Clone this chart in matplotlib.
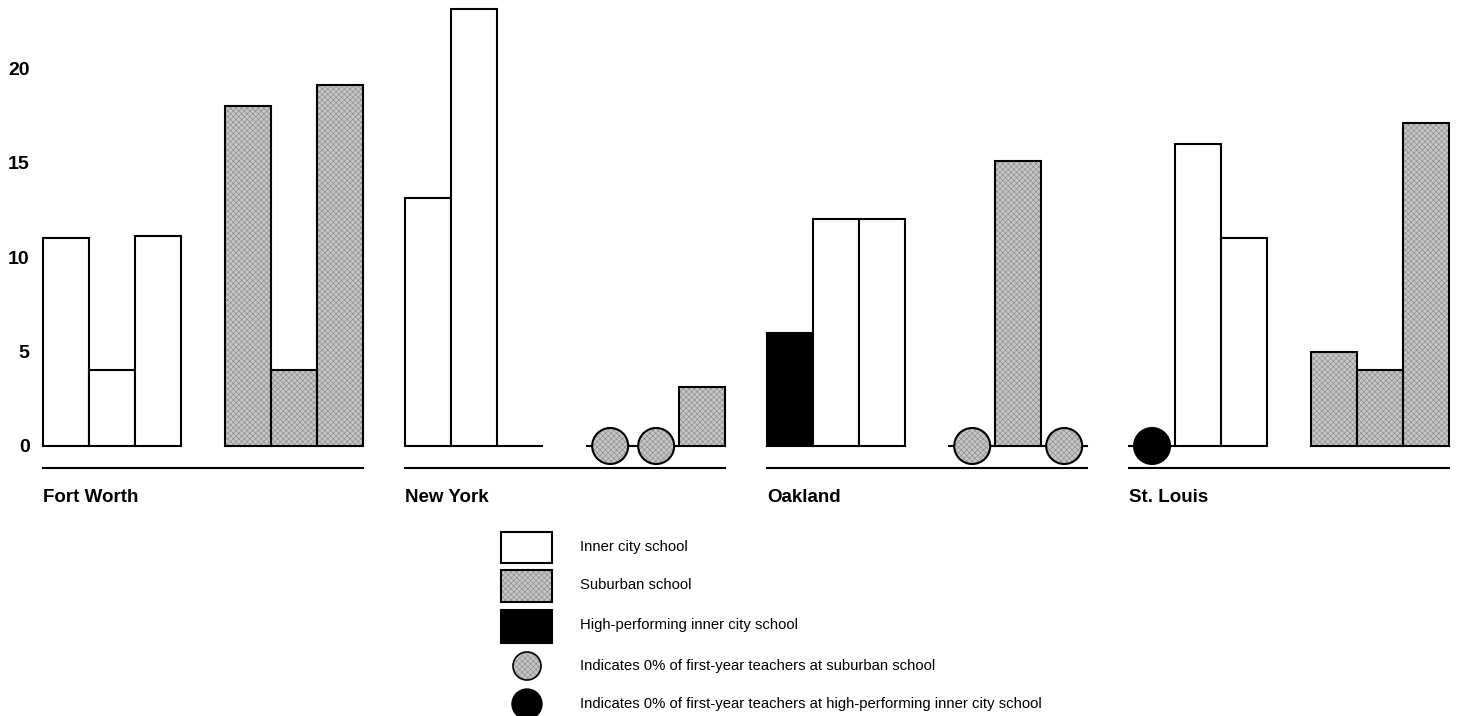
import numpy as np
import matplotlib
matplotlib.use('Agg')
import matplotlib.pyplot as plt
from matplotlib.patches import Ellipse, Rectangle, Circle

plt.rcParams['font.family'] = ['Liberation Sans', 'DejaVu Sans']
plt.rcParams['hatch.linewidth'] = 0.45

# data (percent of first-year teachers)
cities = ['Fort Worth', 'New York', 'Oakland', 'St. Louis']
inner_vals = [[11.0, 4.0, 11.1], [13.1, 23.1, 0.0], [6.0, 12.0, 12.0], [0.0, 16.0, 11.0]]
suburb_vals = [[18.0, 4.0, 19.1], [0.0, 0.0, 3.1], [0.0, 15.1, 0.0], [5.0, 4.0, 17.1]]
high_perf = [None, None, 0, 0]  # slot of the high-performing inner city school
yticks = [0, 5, 10, 15, 20]
legend_labels = ['Inner city school', 'Suburban school', 'High-performing inner city school',
                 'Indicates 0% of first-year teachers at suburban school',
                 'Indicates 0% of first-year teachers at high-performing inner city school']

city_step = 7.87
sub_offset = 3.96
w = 1.0
grey = '#c6c6c6'
hatch_col = '#8c8c8c'
hatch = 'xxxxxx'
lw = 1.5
px_x, px_y = 46.0, 18.9   # pixels per data unit
circ_d = 36.0             # circle diameter in pixels

W, H = 1461, 716
fig = plt.figure(figsize=(W / 100, H / 100), dpi=100)
xlim = (-0.2, 30.8)
ylim = (-1.6, 23.7)
ax_w = (xlim[1] - xlim[0]) * px_x
ax_h = (ylim[1] - ylim[0]) * px_y
left_px = 43 - (0 - xlim[0]) * px_x
bottom_px = 446 + (0 - ylim[0]) * px_y
ax = fig.add_axes([left_px / W, (H - bottom_px) / H, ax_w / W, ax_h / H])
ax.set_xlim(xlim)
ax.set_ylim(ylim)


def plain_bar(x, h, face):
    ax.bar(x, h, w, align='edge', color=face, edgecolor='black', linewidth=lw, zorder=2)


def hatched_bar(x, h):
    ax.bar(x, h, w, align='edge', color=grey, edgecolor=hatch_col, hatch=hatch,
           linewidth=0, zorder=2)
    ax.bar(x, h, w, align='edge', fill=False, edgecolor='black', linewidth=lw, zorder=3)


def zero_circle(x, face, hatched):
    ax.plot([x, x + w], [0, 0], color='black', linewidth=lw, zorder=1)
    c = (x + w / 2, 0)
    if hatched:
        ax.add_patch(Ellipse(c, circ_d / px_x, circ_d / px_y, facecolor=grey,
                             edgecolor=hatch_col, hatch=hatch, linewidth=0, zorder=4))
        ax.add_patch(Ellipse(c, circ_d / px_x, circ_d / px_y, fill=False,
                             edgecolor='black', linewidth=lw, zorder=5))
    else:
        ax.add_patch(Ellipse(c, circ_d / px_x, circ_d / px_y, facecolor=face,
                             edgecolor='black', linewidth=lw, zorder=4))


for i, city in enumerate(cities):
    start = i * city_step
    for j, v in enumerate(inner_vals[i]):
        x = start + j * w
        face = 'black' if high_perf[i] == j else 'white'
        if v == 0 and high_perf[i] == j:
            zero_circle(x, 'black', False)
        else:
            plain_bar(x, v, face)
    for j, v in enumerate(suburb_vals[i]):
        x = start + sub_offset + j * w
        if v == 0:
            zero_circle(x, grey, True)
        else:
            hatched_bar(x, v)
    ax.plot([start, start + sub_offset + 3 * w], [-1.15, -1.15], color='black', linewidth=lw)
    ax.text(start, -2.75, city, fontsize=13.5, fontweight='bold', ha='left', va='center')

ax.set_yticks(yticks)
ax.set_xticks([])
ax.tick_params(axis='y', length=0, pad=3, labelsize=14)
for lbl in ax.get_yticklabels():
    lbl.set_fontweight('bold')
for s in ax.spines.values():
    s.set_visible(False)

# legend drawn in pixel coordinates
lg = fig.add_axes([0, 0, 1, 1])
lg.set_xlim(0, W)
lg.set_ylim(H, 0)
lg.axis('off')
bx, bw = 501, 51
lg.add_patch(Rectangle((bx, 532), bw, 31, facecolor='white', edgecolor='black', linewidth=lw))
lg.add_patch(Rectangle((bx, 570), bw, 32, facecolor=grey, edgecolor=hatch_col,
                       hatch=hatch, linewidth=0))
lg.add_patch(Rectangle((bx, 570), bw, 32, fill=False, edgecolor='black', linewidth=lw))
lg.add_patch(Rectangle((bx, 610), bw, 33, facecolor='black', edgecolor='black', linewidth=lw))
lg.add_patch(Circle((527, 666), 14, facecolor=grey, edgecolor=hatch_col, hatch=hatch,
                    linewidth=0))
lg.add_patch(Circle((527, 666), 14, fill=False, edgecolor='black', linewidth=1.2))
lg.add_patch(Circle((527, 704), 15, facecolor='black', edgecolor='black'))
for y, lab in zip([547, 585, 625, 666, 704], legend_labels):
    lg.text(580, y, lab, fontsize=10.75, ha='left', va='center')

fig.savefig('out.png', dpi=100)
